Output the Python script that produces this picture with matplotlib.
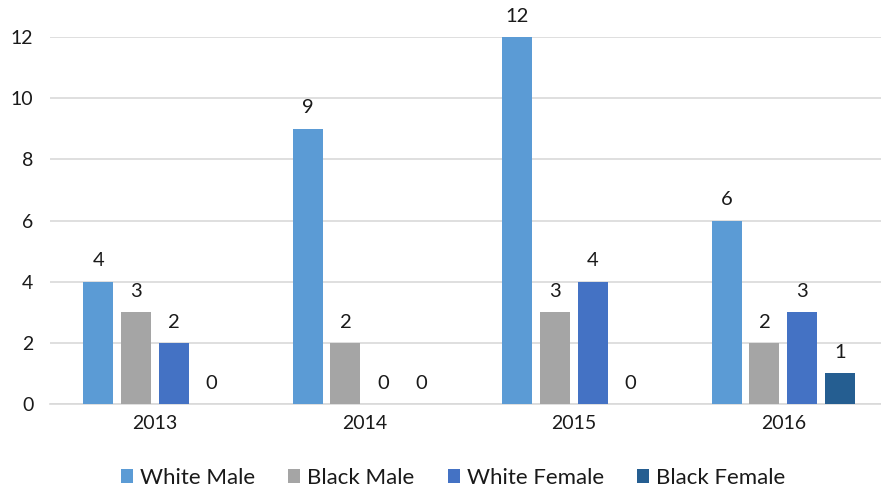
import numpy as np
import matplotlib.pyplot as plt

# Counts per year and group
years = ['2013', '2014', '2015', '2016']
groups = ['White Male', 'Black Male', 'White Female', 'Black Female']
white_male = [4, 9, 12, 6]
black_male = [3, 2, 3, 2]
white_female = [2, 0, 4, 3]
black_female = [0, 0, 0, 1]
colors = ['#5B9BD5', '#A5A5A5', '#4472C4', '#255E91']

plt.rcParams['font.family'] = ['Lato', 'DejaVu Sans']

fig = plt.figure(figsize=(8.81, 4.91), dpi=100)
ax = fig.add_axes([50 / 881, 87 / 491, 838 / 881, 367 / 491])

x = np.arange(len(years))
step = 0.18
width = 0.143
series = [white_male, black_male, white_female, black_female]
for i, (name, vals, col) in enumerate(zip(groups, series, colors)):
    pos = x + (i - 1.5) * step
    ax.bar(pos, vals, width, color=col, label=name, zorder=3)
    for px, v in zip(pos, vals):
        ax.annotate(str(v), (px, v), xytext=(0, 11), textcoords='offset points',
                    ha='center', va='baseline', fontsize=14.5, color='#1a1a1a')

ax.set_xlim(-0.5, 3.5)
ax.set_ylim(0, 12)
ax.set_yticks(range(0, 13, 2))
ax.set_xticks(x)
ax.set_xticklabels(years)
ax.grid(axis='y', color='#D9D9D9', linewidth=1.2, zorder=0)
for s in ['top', 'right', 'left']:
    ax.spines[s].set_visible(False)
ax.spines['bottom'].set_color('#D9D9D9')
ax.spines['bottom'].set_linewidth(1.2)
ax.tick_params(axis='both', length=0, labelsize=14, colors='#1a1a1a', pad=8)
ax.tick_params(axis='y', pad=12)

ax.legend(loc='center', bbox_to_anchor=(453 / 881, 13 / 491), bbox_transform=fig.transFigure,
          ncol=4, frameon=False, fontsize=16, handlelength=0.55, handleheight=0.55,
          handletextpad=0.3, columnspacing=1.5, labelcolor='#1a1a1a')

fig.savefig('out.png', dpi=100)
